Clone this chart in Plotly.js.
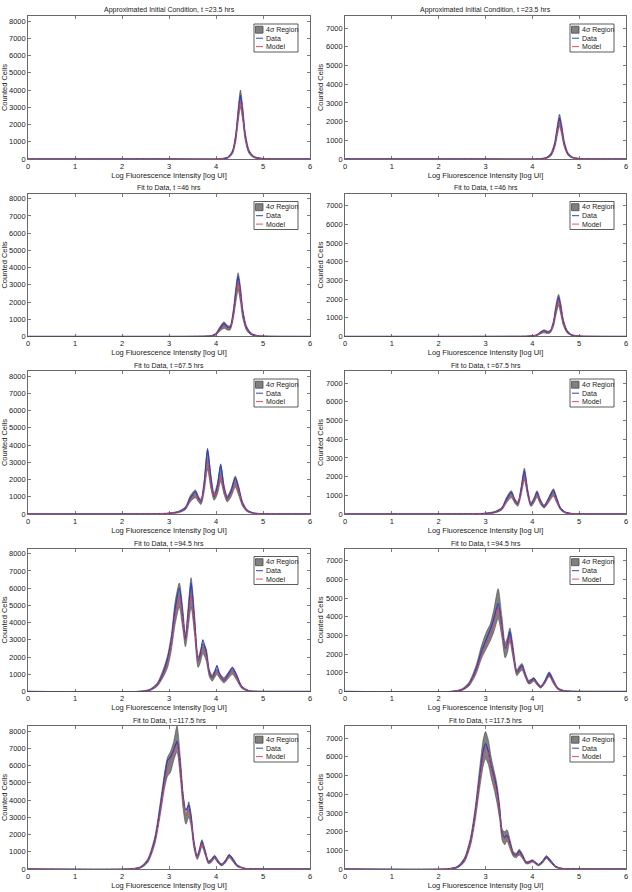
<!DOCTYPE html>
<html><head><meta charset="utf-8">
<script src="https://cdn.plot.ly/plotly-3.0.1.min.js"></script>
<style>html,body{margin:0;padding:0;background:#fff}#chart{width:632px;height:892px}</style>
</head><body><div id="chart"></div>
<script>
// ---------- tick labels / titles ----------
const xTicks = [0, 1, 2, 3, 4, 5, 6];
const yTicksLeft = [0, 1000, 2000, 3000, 4000, 5000, 6000, 7000, 8000];
const yTicksRight = [0, 1000, 2000, 3000, 4000, 5000, 6000, 7000];
const panelTitles = [
  "Approximated Initial Condition, t =23.5 hrs", "Approximated Initial Condition, t =23.5 hrs",
  "Fit to Data, t =46 hrs", "Fit to Data, t =46 hrs",
  "Fit to Data, t =67.5 hrs", "Fit to Data, t =67.5 hrs",
  "Fit to Data, t =94.5 hrs", "Fit to Data, t =94.5 hrs",
  "Fit to Data, t =117.5 hrs", "Fit to Data, t =117.5 hrs"
];
const legendNames = ["4\u03c3 Region", "Data", "Model"];
const xLabel = "Log Fluorescence Intensity [log UI]";
const yLabel = "Counted Cells";

// ---------- panel 1 (left, t = 23.5) ----------
const p1_x     = [0, 3.0, 4.1, 4.25, 4.35, 4.42, 4.47, 4.52, 4.57, 4.62, 4.7, 4.8, 4.95, 5.2, 6];
const p1_data  = [0, 0, 10, 80, 400, 1300, 2600, 3700, 2700, 1400, 450, 130, 30, 5, 0];
const p1_model = [0, 0, 10, 70, 380, 1200, 2400, 3400, 2500, 1300, 420, 120, 30, 5, 0];
const p1_upper = [0, 10, 20, 110, 500, 1500, 2900, 4000, 3000, 1600, 550, 170, 50, 10, 0];
const p1_lower = [0, 0, 0, 50, 300, 1000, 2100, 3000, 2200, 1100, 330, 80, 10, 0, 0];
// ---------- panel 2 (right, t = 23.5) ----------
const p2_x     = [0, 3.0, 4.15, 4.3, 4.4, 4.48, 4.53, 4.58, 4.63, 4.68, 4.76, 4.86, 5.0, 5.3, 6];
const p2_data  = [0, 0, 10, 60, 250, 800, 1550, 2200, 1600, 850, 280, 80, 20, 5, 0];
const p2_model = [0, 0, 10, 50, 230, 740, 1400, 2000, 1450, 780, 260, 70, 20, 5, 0];
const p2_upper = [0, 5, 20, 90, 330, 950, 1750, 2400, 1800, 1000, 350, 110, 35, 10, 0];
const p2_lower = [0, 0, 0, 30, 170, 620, 1200, 1750, 1250, 650, 200, 50, 10, 0, 0];
// ---------- panel 3 (left, t = 46) ----------
const p3_x     = [0, 3.5, 3.9, 4.0, 4.08, 4.17, 4.24, 4.3, 4.37, 4.42, 4.47, 4.52, 4.57, 4.65, 4.75, 4.9, 5.2, 6];
const p3_data  = [0, 5, 40, 150, 450, 750, 550, 520, 1400, 2500, 3500, 2600, 1400, 500, 150, 30, 5, 0];
const p3_model = [0, 5, 35, 130, 380, 620, 480, 480, 1250, 2250, 3200, 2400, 1300, 460, 140, 30, 5, 0];
const p3_upper = [0, 10, 60, 200, 550, 850, 650, 620, 1600, 2800, 3700, 2900, 1600, 600, 200, 50, 10, 0];
const p3_lower = [0, 0, 20, 90, 300, 480, 380, 380, 1050, 1950, 2700, 2000, 1050, 350, 90, 15, 0, 0];
// ---------- panel 4 (right, t = 46) ----------
const p4_x     = [0, 3.5, 3.95, 4.1, 4.18, 4.25, 4.32, 4.38, 4.45, 4.5, 4.56, 4.61, 4.66, 4.74, 4.84, 5.0, 5.3, 6];
const p4_data  = [0, 5, 20, 80, 220, 300, 230, 260, 700, 1400, 2100, 1500, 800, 280, 80, 20, 5, 0];
const p4_model = [0, 5, 18, 70, 190, 260, 210, 240, 650, 1300, 1950, 1400, 750, 260, 75, 20, 5, 0];
const p4_upper = [0, 10, 30, 110, 270, 360, 290, 320, 850, 1650, 2250, 1750, 950, 350, 110, 30, 10, 0];
const p4_lower = [0, 0, 10, 50, 150, 200, 160, 190, 520, 1100, 1650, 1150, 600, 200, 50, 10, 0, 0];
// ---------- panel 5 (left, t = 67.5) ----------
const p5_x     = [0, 2.5, 3.0, 3.2, 3.35, 3.45, 3.56, 3.63, 3.68, 3.75, 3.82, 3.89, 3.96, 4.03, 4.10, 4.17, 4.24, 4.32, 4.41, 4.48, 4.56, 4.66, 4.8, 5.0, 5.5, 6];
const p5_data  = [0, 5, 40, 120, 350, 900, 1300, 900, 700, 1800, 3800, 2100, 1000, 1600, 2900, 1500, 900, 1300, 2100, 1500, 650, 200, 50, 10, 0, 0];
const p5_model = [0, 5, 40, 110, 320, 800, 1150, 850, 650, 1600, 3000, 1800, 1000, 1400, 2200, 1400, 850, 1200, 1800, 1350, 600, 180, 45, 10, 0, 0];
const p5_upper = [0, 10, 60, 160, 420, 1050, 1400, 1000, 850, 2000, 3700, 2300, 1200, 1800, 2800, 1700, 1050, 1450, 2200, 1650, 750, 260, 70, 20, 5, 0];
const p5_lower = [0, 0, 20, 70, 250, 700, 950, 700, 550, 1300, 2600, 1500, 800, 1150, 1900, 1150, 700, 1000, 1550, 1100, 480, 140, 30, 5, 0, 0];
// ---------- panel 6 (right, t = 67.5) ----------
const p6_x     = [0, 2.5, 3.0, 3.2, 3.35, 3.45, 3.55, 3.63, 3.69, 3.76, 3.83, 3.9, 3.97, 4.04, 4.1, 4.17, 4.25, 4.35, 4.45, 4.52, 4.6, 4.7, 4.85, 5.0, 5.5, 6];
const p6_data  = [0, 5, 30, 100, 300, 800, 1150, 700, 550, 1300, 2300, 1200, 500, 800, 1150, 700, 400, 800, 1250, 800, 300, 90, 20, 5, 0, 0];
const p6_model = [0, 5, 30, 90, 280, 720, 1050, 680, 520, 1200, 2000, 1100, 500, 750, 1050, 650, 400, 750, 1100, 720, 280, 80, 20, 5, 0, 0];
const p6_upper = [0, 10, 50, 140, 360, 900, 1250, 800, 650, 1450, 2450, 1350, 600, 900, 1250, 800, 480, 900, 1350, 900, 360, 120, 30, 10, 0, 0];
const p6_lower = [0, 0, 15, 60, 220, 600, 880, 560, 420, 1000, 1800, 950, 400, 620, 900, 540, 320, 620, 950, 600, 220, 55, 10, 0, 0, 0];
// ---------- panel 7 (left, t = 94.5) ----------
const p7_x     = [0, 2.4, 2.6, 2.75, 2.88, 2.97, 3.05, 3.13, 3.22, 3.29, 3.35, 3.41, 3.47, 3.54, 3.62, 3.67, 3.72, 3.79, 3.86, 3.92, 3.97, 4.02, 4.08, 4.17, 4.26, 4.35, 4.44, 4.55, 4.7, 4.9, 5.5, 6];
const p7_data  = [0, 10, 100, 400, 1100, 1900, 3000, 4800, 6000, 4500, 3000, 4600, 6300, 4200, 1800, 2200, 3000, 2300, 1100, 800, 1100, 1500, 1000, 650, 1000, 1400, 900, 250, 40, 5, 0, 0];
const p7_model = [0, 10, 90, 380, 1000, 1700, 2800, 4400, 5500, 4300, 3000, 4300, 5600, 3900, 1800, 2000, 2600, 2100, 1100, 800, 1000, 1200, 900, 650, 900, 1200, 800, 230, 40, 5, 0, 0];
const p7_upper = [0, 20, 150, 500, 1300, 2100, 3300, 5200, 6300, 4900, 3300, 5000, 6600, 4600, 2000, 2400, 2800, 2500, 1250, 950, 1200, 1300, 1050, 800, 1100, 1400, 1000, 320, 60, 10, 0, 0];
const p7_lower = [0, 0, 60, 300, 850, 1400, 2400, 3900, 4900, 3700, 2600, 3700, 4900, 3400, 1400, 1700, 2200, 1800, 850, 600, 800, 1000, 750, 500, 750, 1000, 650, 180, 20, 0, 0, 0];
// ---------- panel 8 (right, t = 94.5) ----------
const p8_x     = [0, 2.3, 2.5, 2.65, 2.8, 2.92, 3.02, 3.1, 3.18, 3.27, 3.35, 3.42, 3.47, 3.52, 3.58, 3.67, 3.72, 3.78, 3.85, 3.92, 3.97, 4.03, 4.1, 4.18, 4.27, 4.36, 4.45, 4.55, 4.7, 4.9, 5.5, 6];
const p8_data  = [0, 10, 100, 400, 1200, 2200, 2800, 3300, 3900, 4700, 3500, 2300, 2600, 3200, 2300, 1000, 1200, 1400, 900, 500, 550, 700, 450, 250, 550, 950, 550, 150, 30, 5, 0, 0];
const p8_model = [0, 10, 90, 380, 1100, 2000, 2600, 3000, 3700, 4500, 3400, 2300, 2500, 2900, 2200, 1000, 1150, 1300, 850, 500, 520, 620, 420, 250, 500, 850, 500, 140, 30, 5, 0, 0];
const p8_upper = [0, 20, 150, 500, 1400, 2500, 3200, 3600, 4400, 5500, 4000, 2600, 2900, 3400, 2600, 1150, 1350, 1500, 1000, 600, 650, 750, 520, 300, 620, 1050, 650, 200, 40, 10, 0, 0];
const p8_lower = [0, 0, 60, 300, 950, 1800, 2300, 2700, 3200, 3900, 2900, 1800, 2100, 2700, 1900, 850, 1000, 1150, 750, 400, 430, 550, 350, 180, 430, 800, 420, 100, 15, 0, 0, 0];
// ---------- panel 9 (left, t = 117.5) ----------
const p9_x     = [0, 2.2, 2.4, 2.55, 2.7, 2.8, 2.9, 2.97, 3.03, 3.1, 3.17, 3.24, 3.3, 3.36, 3.42, 3.47, 3.53, 3.6, 3.65, 3.7, 3.77, 3.84, 3.9, 3.97, 4.04, 4.12, 4.2, 4.28, 4.36, 4.45, 4.6, 4.8, 5.5, 6];
const p9_data  = [0, 10, 100, 500, 1700, 3300, 5200, 6300, 6500, 6900, 7400, 6000, 4200, 3400, 3700, 3000, 1500, 700, 1100, 1600, 1000, 400, 500, 750, 450, 250, 450, 800, 550, 200, 40, 5, 0, 0];
const p9_model = [0, 10, 100, 480, 1600, 3100, 4900, 5900, 6300, 6800, 7200, 5900, 4100, 3200, 3400, 2800, 1500, 700, 1000, 1500, 950, 400, 480, 700, 420, 250, 420, 750, 500, 180, 40, 5, 0, 0];
const p9_upper = [0, 20, 150, 600, 1900, 3600, 5500, 6500, 6800, 7400, 8300, 6500, 4400, 3100, 3900, 3200, 1700, 800, 1200, 1700, 1100, 480, 580, 800, 520, 300, 520, 850, 620, 250, 60, 10, 0, 0];
const p9_lower = [0, 0, 60, 380, 1450, 2900, 4600, 5400, 5600, 6300, 6800, 5300, 3500, 2600, 3000, 2500, 1200, 550, 850, 1300, 800, 300, 380, 600, 350, 180, 350, 650, 420, 130, 20, 0, 0, 0];
// ---------- panel 10 (right, t = 117.5) ----------
const p10_x     = [0, 2.2, 2.4, 2.55, 2.68, 2.78, 2.88, 2.95, 3.0, 3.06, 3.12, 3.18, 3.24, 3.3, 3.36, 3.41, 3.46, 3.52, 3.6, 3.66, 3.72, 3.79, 3.87, 3.94, 4.0, 4.06, 4.13, 4.22, 4.3, 4.38, 4.5, 4.65, 4.85, 5.5, 6];
const p10_data  = [0, 10, 100, 500, 1500, 3000, 5000, 6300, 6700, 6300, 5500, 5000, 4300, 3200, 1900, 1700, 1800, 1400, 800, 750, 950, 700, 350, 380, 450, 350, 220, 400, 650, 450, 120, 20, 5, 0, 0];
const p10_model = [0, 10, 100, 480, 1450, 2900, 4800, 6000, 6500, 6200, 5400, 4800, 4100, 3100, 1900, 1600, 1700, 1350, 800, 720, 900, 650, 350, 360, 420, 330, 220, 380, 600, 420, 110, 20, 5, 0, 0];
const p10_upper = [0, 20, 150, 600, 1700, 3300, 5500, 6900, 7350, 6900, 6000, 5300, 4600, 3500, 2100, 2000, 2100, 1600, 900, 850, 1050, 800, 400, 430, 500, 400, 260, 450, 720, 520, 160, 30, 10, 0, 0];
const p10_lower = [0, 0, 60, 380, 1250, 2600, 4400, 5500, 5900, 5600, 4900, 4300, 3600, 2700, 1500, 1300, 1500, 1100, 650, 600, 750, 550, 270, 300, 370, 280, 170, 320, 560, 360, 80, 10, 0, 0, 0];

const panels = [
  [p1_x, p1_data, p1_model, p1_upper, p1_lower],
  [p2_x, p2_data, p2_model, p2_upper, p2_lower],
  [p3_x, p3_data, p3_model, p3_upper, p3_lower],
  [p4_x, p4_data, p4_model, p4_upper, p4_lower],
  [p5_x, p5_data, p5_model, p5_upper, p5_lower],
  [p6_x, p6_data, p6_model, p6_upper, p6_lower],
  [p7_x, p7_data, p7_model, p7_upper, p7_lower],
  [p8_x, p8_data, p8_model, p8_upper, p8_lower],
  [p9_x, p9_data, p9_model, p9_upper, p9_lower],
  [p10_x, p10_data, p10_model, p10_upper, p10_lower]
];

// ---------- layout geometry ----------
const FIG_W = 632, FIG_H = 892;
const colLeft = [[28, 310], [345, 626]];
const ROW_TOP0 = 16, ROW_STEP = 177.5, ROW_H = 143;
const FONT = "Liberation Sans, Arial, Helvetica, sans-serif";
const COL_BAND = "#808080", COL_EDGE = "#4a4a4a", COL_DATA = "#2c44b8", COL_MODEL = "#e8385a";

const traces = [];
const layout = {
  width: FIG_W, height: FIG_H,
  margin: {l: 0, r: 0, t: 0, b: 0},
  paper_bgcolor: "#fff", plot_bgcolor: "#fff",
  showlegend: false,
  font: {family: FONT, size: 7, color: "#222"},
  annotations: [], shapes: []
};

panels.forEach((p, i) => {
  const [x, data, model, upper, lower] = p;
  const r = Math.floor(i / 2), c = i % 2;
  const suf = i === 0 ? "" : String(i + 1);
  const xa = "x" + suf, ya = "y" + suf;
  const top = ROW_TOP0 + r * ROW_STEP, bot = top + ROW_H;
  const [l, rr] = colLeft[c];
  const W = rr - l, H = ROW_H;
  const common = {xaxis: xa, yaxis: ya, mode: "lines", hoverinfo: "skip", showlegend: false};
  traces.push(Object.assign({}, common, {x: x, y: upper, line: {color: COL_EDGE, width: 0.6, shape: "spline", smoothing: 0.7}}));
  traces.push(Object.assign({}, common, {x: x, y: lower, fill: "tonexty", fillcolor: COL_BAND, name: legendNames[0],
    line: {color: COL_EDGE, width: 0.6, shape: "spline", smoothing: 0.7}}));
  traces.push(Object.assign({}, common, {x: x, y: data, name: legendNames[1], line: {color: COL_DATA, width: 1.3, shape: "spline", smoothing: 0.7}}));
  traces.push(Object.assign({}, common, {x: x, y: model, name: legendNames[2], line: {color: COL_MODEL, width: 1, dash: "4px,1.5px", shape: "spline", smoothing: 0.7}}));

  const axCommon = {showline: true, linecolor: "#444", linewidth: 0.8, mirror: "ticks", ticks: "inside",
    ticklen: 3, tickcolor: "#444", tickwidth: 0.7, showgrid: false, zeroline: false,
    tickfont: {family: FONT, size: 7.5, color: "#222"}, fixedrange: true};
  layout["xaxis" + suf] = Object.assign({}, axCommon, {
    domain: [l / FIG_W, rr / FIG_W], anchor: ya, range: [0, 6], tickvals: xTicks, ticktext: xTicks.map(String),
    title: {text: xLabel, font: {family: FONT, size: 7.5, color: "#222"}, standoff: 1}
  });
  const yt = c === 0 ? yTicksLeft : yTicksRight;
  layout["yaxis" + suf] = Object.assign({}, axCommon, {
    domain: [1 - bot / FIG_H, 1 - top / FIG_H], anchor: xa, range: [0, c === 0 ? 8300 : 7650],
    tickvals: yt, ticktext: yt.map(String),
    title: {text: yLabel, font: {family: FONT, size: 7.5, color: "#222"}, standoff: 1}
  });
  layout.annotations.push({text: panelTitles[i], xref: xa + " domain", yref: ya + " domain", x: 0.5, y: 1,
    xanchor: "center", yanchor: "bottom", yshift: 0, showarrow: false, font: {family: FONT, size: 7, color: "#222"}});

  // legend box (drawn in axis-domain coordinates)
  const fx = px => px / W, fy = py => 1 - py / H;
  const bx0 = W - 56, bx1 = W - 12, by0 = 8, by1 = 36;
  const dx = xa + " domain", dy = ya + " domain";
  layout.shapes.push({type: "rect", xref: dx, yref: dy, x0: fx(bx0), x1: fx(bx1), y0: fy(by0), y1: fy(by1),
    fillcolor: "#fff", line: {color: "#333", width: 0.8}, layer: "above"});
  const rowsY = [by0 + 5.7, by0 + 14.2, by0 + 22.6];
  layout.shapes.push({type: "rect", xref: dx, yref: dy, x0: fx(bx0 + 1.5), x1: fx(bx0 + 9), y0: fy(rowsY[0] - 3.5), y1: fy(rowsY[0] + 3.5),
    fillcolor: COL_BAND, line: {color: COL_EDGE, width: 0.8}, layer: "above"});
  layout.shapes.push({type: "line", xref: dx, yref: dy, x0: fx(bx0 + 2), x1: fx(bx0 + 9), y0: fy(rowsY[1]), y1: fy(rowsY[1]),
    line: {color: COL_DATA, width: 1}, layer: "above"});
  layout.shapes.push({type: "line", xref: dx, yref: dy, x0: fx(bx0 + 2), x1: fx(bx0 + 9), y0: fy(rowsY[2]), y1: fy(rowsY[2]),
    line: {color: COL_MODEL, width: 0.9, dash: "dash"}, layer: "above"});
  legendNames.forEach((nm, k) => {
    layout.annotations.push({text: nm, xref: dx, yref: dy, x: fx(bx0 + 10), y: fy(rowsY[k]), xanchor: "left", yanchor: "middle",
      showarrow: false, font: {family: FONT, size: 7, color: "#222"}});
  });
});

Plotly.newPlot("chart", traces, layout, {displayModeBar: false, staticPlot: true});
</script></body></html>
